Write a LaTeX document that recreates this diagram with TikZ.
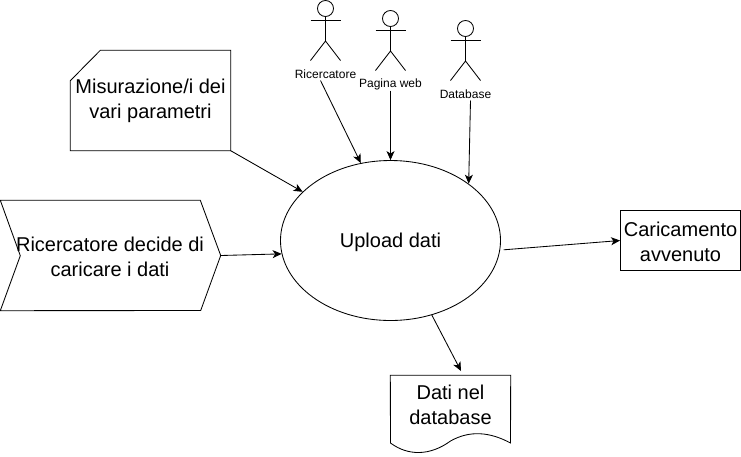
\documentclass[tikz,border=0pt]{standalone}
\usepackage{fontspec}
\setmainfont{Liberation Sans}
\usetikzlibrary{arrows.meta,shapes.geometric}
\tikzset{
  line/.style={draw=black,line width=0.85pt,line join=miter},
  box/.style={inner sep=0pt,align=center,font=\fontsize{20}{25}\selectfont,text=black},
  small/.style={inner sep=0pt,align=center,font=\fontsize{12}{14}\selectfont,text=black},
  conn/.style={line,-{Stealth[length=9pt,width=8pt,inset=2.5pt]}},
  actor/.pic={
    \draw[line] (0,8) circle[radius=8];
    \draw[line] (0,16) -- (0,40.5);
    \draw[line] (-15,20) -- (15,20);
    \draw[line] (-15,60) -- (0,40.5) -- (15,60);
  }
}
\begin{document}
\begin{tikzpicture}[x=1pt,y=-1pt]
\useasboundingbox (0,0) rectangle (741,456);
\fill[white] (0,0) rectangle (741,456);

% Shapes
\node[line,ellipse,minimum width=220pt,minimum height=160pt,inner sep=0pt] (up) at (390.5,240.5) {};
\node[box] (uplabel) at (390.5,242) {Upload dati};

\node[box,minimum width=160pt,minimum height=100pt] (mis) at (150.5,100.5) {};
\draw[line] (mis.north west) ++(30,0) -- (mis.north east) -- (mis.south east) -- (mis.south west) -- ++(0,-70) -- cycle;
\node[box] (mislabel) at (150.5,101) {Misurazione/i dei\\vari parametri};

\node[box,minimum width=220pt,minimum height=110pt] (dec) at (110.5,255.5) {};
\draw[line] (dec.north west) -- ++(200,0) -- (dec.east) -- ++(-20,55) -- (dec.south west) -- ++(20,-55) -- cycle;
\node[box] (declabel) at (110,257) {Ricercatore decide di\\caricare i dati};

\node[box,minimum width=120pt,minimum height=60pt,line] (res) at (680.5,240.5) {};
\node[box] (reslabel) at (680.5,241.5) {Caricamento\\avvenuto};

\node[box,minimum width=120pt,minimum height=68pt] (doc) at (450.5,409.5) {};
\draw[line] (doc.north west) -- (doc.north east) -- (510.5,443)
  .. controls (490,432) and (470,430) .. (450.5,441)
  .. controls (430,456) and (408,456) .. (390.5,443) -- cycle;
\node[box] (doclabel) at (450.5,405) {Dati nel\\database};

% Actors
\pic at (325.5,0.5) {actor};
\pic at (390.5,10.5) {actor};
\pic at (465.5,20.5) {actor};
\node[small] (a1) at (325.5,74) {Ricercatore};
\node[small] (a2) at (390.5,84) {Pagina web};
\node[small] (a3) at (465.5,94) {Database};

% Free ends
\coordinate (a1out) at (320.5,80.5);
\coordinate (a2out) at (390.5,90.5);
\coordinate (a3out) at (470.5,100.5);
\coordinate (docin) at (461,371);

% Connectors
\draw[conn] (a1out) -- (up.111);
\draw[conn] (a2out) -- (up.north);
\draw[conn] (a3out) -- (up.36);
\draw[conn] (mis.south east) -- (up.151);
\draw[conn] (dec.east) -- (up.187);
\draw[conn,shorten <=3.5pt] (up.-5) -- (res.west);
\draw[conn] (up.-61.6) -- (docin);
\end{tikzpicture}
\end{document}
